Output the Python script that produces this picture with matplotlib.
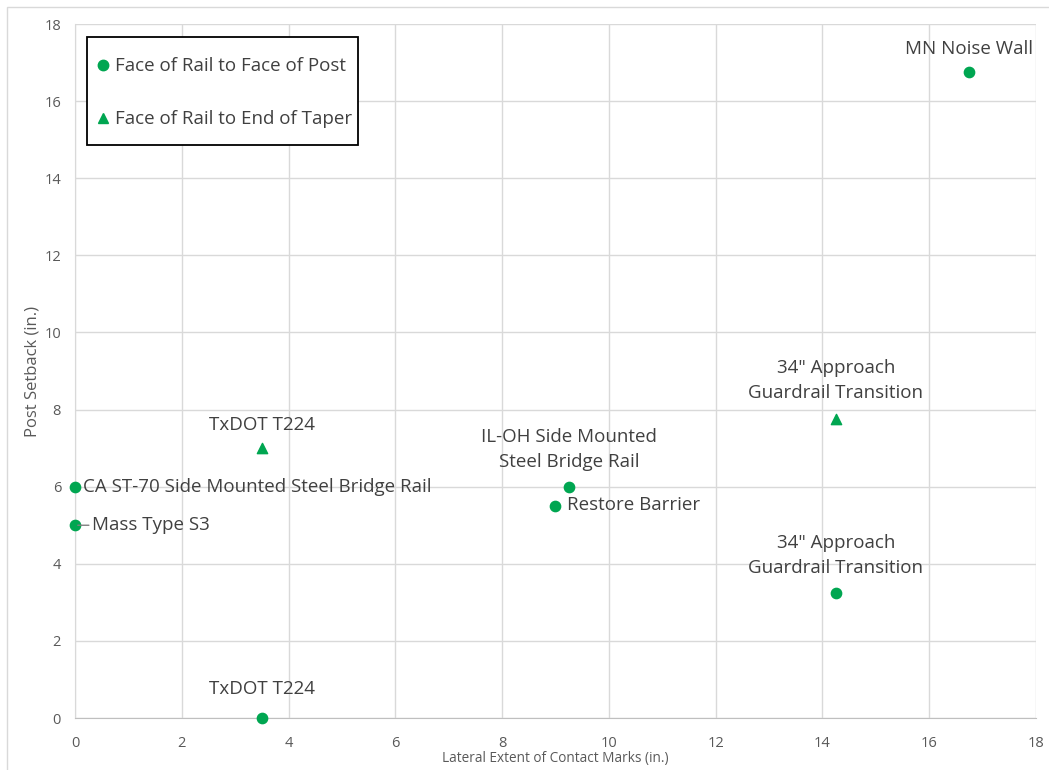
import matplotlib
matplotlib.use("Agg")
import matplotlib.pyplot as plt
from matplotlib.lines import Line2D
from matplotlib.patches import Rectangle

plt.rcParams['font.family'] = ['Open Sans', 'DejaVu Sans']

# Face of rail to face of post
post_names = ["MN Noise Wall", "CA ST-70 Side Mounted Steel Bridge Rail", "Mass Type S3",
              "IL-OH Side Mounted\nSteel Bridge Rail", "Restore Barrier",
              "34\" Approach\nGuardrail Transition", "TxDOT T224"]
post_x = [16.75, 0.0, 0.0, 9.25, 9.0, 14.25, 3.5]
post_y = [16.75, 6.0, 5.0, 6.0, 5.5, 3.25, 0.0]

# Face of rail to end of taper
taper_names = ["TxDOT T224", "34\" Approach\nGuardrail Transition"]
taper_x = [3.5, 14.25]
taper_y = [7.0, 7.75]

x_ticks = list(range(0, 19, 2))
y_ticks = list(range(0, 19, 2))

GREEN = '#00A651'
TXT = '#404040'
TICK = '#595959'
NARROW = ['Liberation Sans Narrow', 'Open Sans', 'DejaVu Sans']

fig = plt.figure(figsize=(10.49, 7.70), dpi=100)
ax = fig.add_axes([0.0715, 0.0675, 0.9161, 0.9013])

ax.scatter(post_x, post_y, marker='o', s=55, color=GREEN, zorder=3, clip_on=False)
ax.scatter(taper_x, taper_y, marker='^', s=55, color=GREEN, zorder=3, clip_on=False)

ax.set_xlim(0, 18)
ax.set_ylim(0, 18)
ax.set_xticks(x_ticks)
ax.set_yticks(y_ticks)
ax.grid(True, color='#D9D9D9', linewidth=1.0)
ax.set_axisbelow(True)
for side in ['top', 'right']:
    ax.spines[side].set_visible(False)
ax.spines['left'].set_color('#D9D9D9')
ax.spines['bottom'].set_color('#BFBFBF')
ax.tick_params(length=0, colors=TICK, labelsize=10.5)
ax.tick_params(axis='x', pad=13)
ax.tick_params(axis='y', pad=10)
for lab in ax.get_xticklabels() + ax.get_yticklabels():
    lab.set_fontfamily(NARROW)

ax.set_xlabel("Lateral Extent of Contact Marks (in.)", color=TICK, fontsize=9.8,
              family=NARROW, labelpad=0)
ax.set_ylabel("Post Setback (in.)", color=TICK, fontsize=12, labelpad=3)

fs = 13.5
ls = 1.5
# Point labels (offsets in points)
ann = dict(fontsize=fs, color=TXT, textcoords='offset points')
ax.annotate(post_names[0], (post_x[0], post_y[0]), xytext=(0, 17), ha='center', va='center', **ann)
ax.annotate(post_names[1], (post_x[1], post_y[1]), xytext=(6, 0), ha='left', va='center', **ann)
ax.annotate(post_names[2], (post_x[2], post_y[2]), xytext=(12, 0), ha='left', va='center',
            arrowprops=dict(arrowstyle='-', color='#7F7F7F', lw=1, shrinkA=0, shrinkB=2), **ann)
ax.annotate(post_names[3], (post_x[3], post_y[3]), xytext=(0, 27), ha='center', va='center',
            linespacing=ls, **ann)
ax.annotate(post_names[4], (post_x[4], post_y[4]), xytext=(8.5, 1), ha='left', va='center', **ann)
ax.annotate(post_names[5], (post_x[5], post_y[5]), xytext=(0, 27), ha='center', va='center',
            linespacing=ls, **ann)
ax.annotate(post_names[6], (post_x[6], post_y[6]), xytext=(0, 21), ha='center', va='center', **ann)
ax.annotate(taper_names[0], (taper_x[0], taper_y[0]), xytext=(0, 17), ha='center', va='center', **ann)
ax.annotate(taper_names[1], (taper_x[1], taper_y[1]), xytext=(0, 28), ha='center', va='center',
            linespacing=ls, **ann)

# Legend entries, with a hand-placed frame around them
handles = [Line2D([], [], marker='o', linestyle='none', color=GREEN, markersize=7.5),
           Line2D([], [], marker='^', linestyle='none', color=GREEN, markersize=7.5)]
leg = ax.legend(handles, ["Face of Rail to Face of Post", "Face of Rail to End of Taper"],
                loc='upper left', bbox_to_anchor=(0.0052, 0.979), borderaxespad=0,
                fontsize=fs, frameon=False, labelspacing=1.86,
                handletextpad=0.35, borderpad=1.0, handlelength=0.5, labelcolor=TXT)
ax.add_patch(Rectangle((0.0125, 0.8256), 0.282, 0.1554, transform=ax.transAxes,
                       fill=True, facecolor='white', edgecolor='black', linewidth=1.3,
                       zorder=4))
leg.set_zorder(5)

# Chart area border
fig.patches.append(Rectangle((0.0067, -0.02), 1.1, 1.011, transform=fig.transFigure,
                             fill=False, edgecolor='#D9D9D9', linewidth=1))

fig.savefig("out.png", dpi=100)
